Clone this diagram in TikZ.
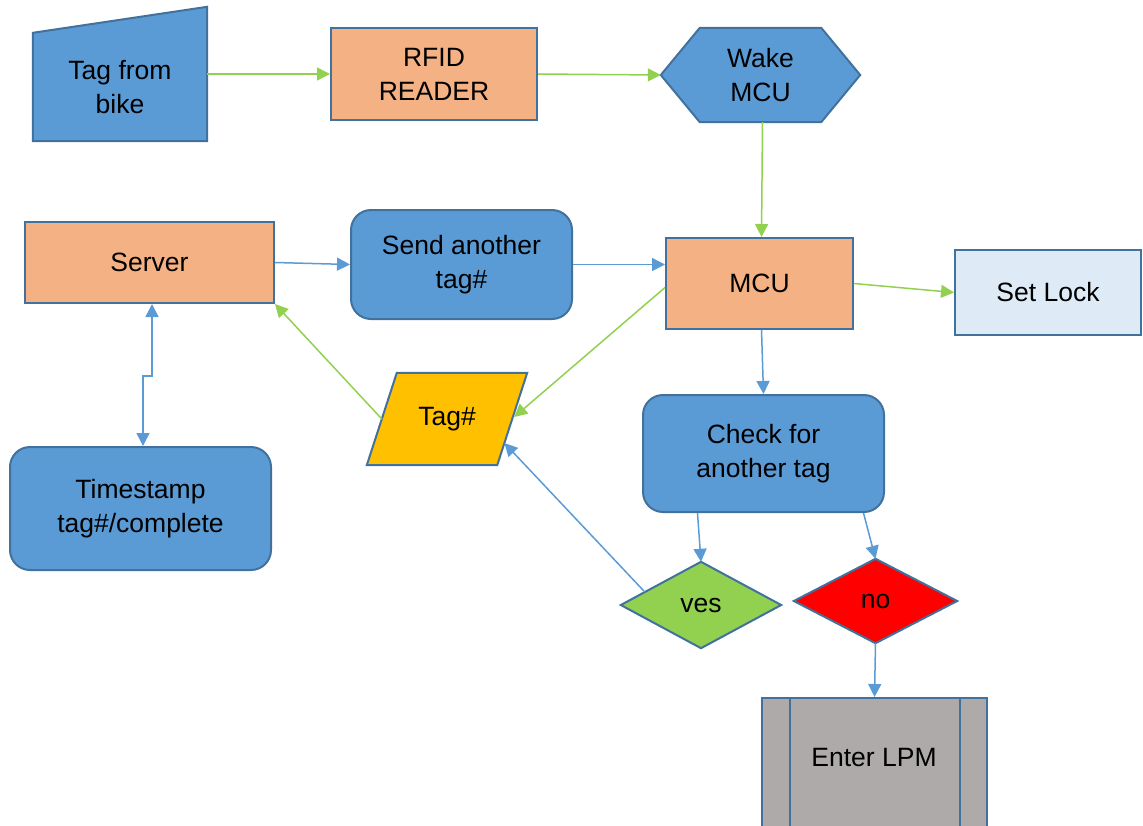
\documentclass[tikz,border=0pt]{standalone}
\usepackage{fontspec}
\setmainfont{Liberation Sans}
\usetikzlibrary{arrows.meta,calc,backgrounds}
\definecolor{bfill}{HTML}{5B9BD5}
\definecolor{bline}{HTML}{41719C}
\definecolor{ofill}{HTML}{F4B183}
\definecolor{lfill}{HTML}{DEEBF7}
\definecolor{yfill}{HTML}{FFC000}
\definecolor{gfill}{HTML}{92D050}
\definecolor{grfill}{HTML}{AEAAAA}
\definecolor{garr}{HTML}{92D050}
\definecolor{barr}{HTML}{5B9BD5}
\tikzset{
  box/.style={draw=bline, line width=2pt, align=center, inner sep=0pt, font=\fontsize{26.5}{34}\selectfont},
  rbox/.style={box, rounded corners=20pt, fill=bfill},
  ghost/.style={inner sep=0pt, align=center, font=\fontsize{26.5}{34}\selectfont},
  shapeline/.style={draw=bline, line width=2pt},
  garrow/.style={draw=garr, line width=1.5pt, -{Triangle[length=13pt,width=13pt]}},
  barrow/.style={draw=barr, line width=1.5pt, -{Triangle[length=13pt,width=13pt]}},
}
\begin{document}
\begin{tikzpicture}[x=1pt,y=-1pt]
\clip (0,0) rectangle (1143,825);

% nodes
\node[ghost, minimum width=174pt, minimum height=108pt] (bike) at (120,87) {Tag from\\bike};
\node[box, fill=ofill, minimum width=206pt, minimum height=92pt] (rfid) at (434,74) {RFID\\READER};
\node[ghost, minimum width=199pt, minimum height=94pt] (wake) at (760.5,75) {Wake\\MCU};
\node[box, fill=ofill, minimum width=187pt, minimum height=91pt] (mcu) at (759.5,283.5) {MCU};
\node[box, fill=lfill, minimum width=186pt, minimum height=85pt] (lock) at (1048,292.5) {Set Lock};
\node[box, fill=ofill, minimum width=249pt, minimum height=81pt] (server) at (149.5,262.5) {Server};
\node[rbox, minimum width=221pt, minimum height=109pt] (send) at (461.5,264.5) {Send another\\tag\#};
\node[rbox, minimum width=261pt, minimum height=123pt] (ts) at (140.5,508.5) {Timestamp\\tag\#/complete};
\node[ghost, minimum width=160pt, minimum height=92pt] (tagn) at (447,419) {Tag\#};
\node[rbox, minimum width=241pt, minimum height=117pt] (check) at (763.5,453.5) {Check for\\another tag};
\node[ghost, minimum width=160pt, minimum height=86pt] (yes) at (701,605) {ves};
\node[ghost, minimum width=163pt, minimum height=84pt] (no) at (875.5,601) {no};
\node[box, fill=grfill, minimum width=225pt, minimum height=140pt] (lpm) at (874.5,768) {};
\node[ghost] (lpmtext) at (874,758) {Enter LPM};

% custom shapes
\begin{scope}[on background layer]
\draw[shapeline, fill=bfill] (bike.south west) -- (bike.south east) -- ([yshift=26pt]bike.north east) -- (bike.north west) -- cycle;
\draw[shapeline, fill=bfill] (wake.west) -- ([xshift=39pt]wake.north west) -- ([xshift=-39pt]wake.north east) -- (wake.east) -- ([xshift=-39pt]wake.south east) -- ([xshift=39pt]wake.south west) -- cycle;
\draw[shapeline, fill=yfill] ([xshift=30pt]tagn.north west) -- (tagn.north east) -- ([xshift=-30pt]tagn.south east) -- (tagn.south west) -- cycle;
\draw[shapeline, fill=gfill] (yes.north) -- (yes.east) -- (yes.south) -- (yes.west) -- cycle;
\draw[shapeline, fill=red] (no.north) -- (no.east) -- (no.south) -- (no.west) -- cycle;
\end{scope}
\draw[shapeline] ([xshift=29pt]lpm.north west) -- ([xshift=29pt]lpm.south west);
\draw[shapeline] ([xshift=-28pt]lpm.north east) -- ([xshift=-28pt]lpm.south east);

% connectors
\draw[garrow] (bike.east |- rfid.west) -- (rfid.west);
\draw[garrow] (rfid.east) -- (wake.west);
\draw[garrow] ([xshift=2pt]wake.south) -- ([xshift=2pt]mcu.north);
\draw[garrow] (mcu.east) -- (lock.west);
\draw[barrow] (server.east) -- (send.west);
\draw[barrow] (send.east) -- (mcu.west |- send.east);
\draw[garrow] ([yshift=-4pt]mcu.west) -- ([xshift=-13pt,yshift=2pt]tagn.east);
\draw[garrow] ([xshift=15pt]tagn.west) -- (server.south east);
\draw[barrow] ($(yes.west)!0.3!(yes.north)$) -- ($(tagn.north east)!0.76!([xshift=-30pt]tagn.south east)$);
\draw[barrow] ([xshift=2pt]mcu.south) -- (check.north);
\draw[barrow] ([xshift=-66pt]check.south) -- (yes.north);
\draw[barrow] ([xshift=100pt]check.south) -- (no.north);
\draw[barrow] (no.south) -- (lpm.north);
\draw[draw=barr, line width=1.5pt, {Triangle[length=13pt,width=13pt]}-{Triangle[length=13pt,width=13pt]}]
  ([xshift=2.5pt]server.south) -- (152,376) -- (143,376) -- ([xshift=2.5pt]ts.north);
\end{tikzpicture}
\end{document}
